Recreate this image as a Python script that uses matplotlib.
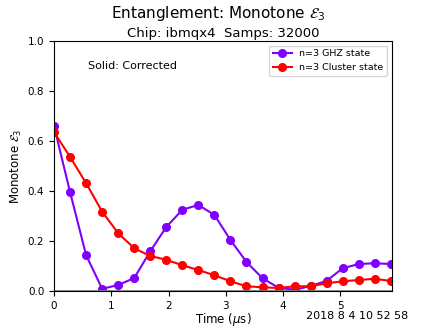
import matplotlib
matplotlib.use("Agg")
import matplotlib.pyplot as plt

# time points (microseconds)
t = [0.0, 0.28, 0.56, 0.84, 1.12, 1.40, 1.68, 1.96, 2.24, 2.52, 2.80,
     3.08, 3.36, 3.64, 3.92, 4.20, 4.48, 4.76, 5.04, 5.32, 5.60, 5.88]

ghz = [0.659, 0.395, 0.143, 0.009, 0.024, 0.052, 0.159, 0.256, 0.325, 0.344, 0.304,
       0.204, 0.116, 0.051, 0.013, 0.005, 0.020, 0.041, 0.091, 0.108, 0.111, 0.108]

cluster = [0.635, 0.536, 0.431, 0.317, 0.231, 0.171, 0.140, 0.125, 0.103, 0.084, 0.063,
           0.039, 0.019, 0.015, 0.012, 0.019, 0.019, 0.031, 0.039, 0.044, 0.049, 0.040]

chip = "ibmqx4"
samps = 32000
stamp = "2018 8 4 10 52 58"

fig, ax = plt.subplots(figsize=(4.36, 3.27), dpi=100)
fig.subplots_adjust(left=0.124, right=0.899, top=0.875, bottom=0.11)
fig.text(0.5, 0.96, r"Entanglement: Monotone $\mathcal{E}_3$", fontsize=11, ha="center", va="center")
ax.set_title("Chip: %s  Samps: %d" % (chip, samps), fontsize=9.5, pad=3)

ax.plot(t, ghz, "-o", color="#8000ff", markersize=5.5, lw=1.5, label="n=3 GHZ state")
ax.plot(t, cluster, "-o", color="#ff0000", markersize=5.5, lw=1.5, label="n=3 Cluster state")
ax.axhline(0, color="grey", lw=2)

ax.set_xlim(0, 5.9)
ax.set_ylim(0, 1.0)
ax.tick_params(labelsize=7.5)
ax.set_xlabel(r"Time ($\mu$s)", fontsize=8.5, labelpad=0)
ax.set_ylabel(r"Monotone $\mathcal{E}_3$", fontsize=8.5, labelpad=3)
ax.text(0.1, 0.9, "Solid: Corrected", transform=ax.transAxes, fontsize=8, va="center")
ax.legend(loc="upper right", fontsize=6.8, handlelength=2)
fig.text(0.702, 0.034, stamp, fontsize=8, va="center")

fig.savefig("out.png", dpi=100)
